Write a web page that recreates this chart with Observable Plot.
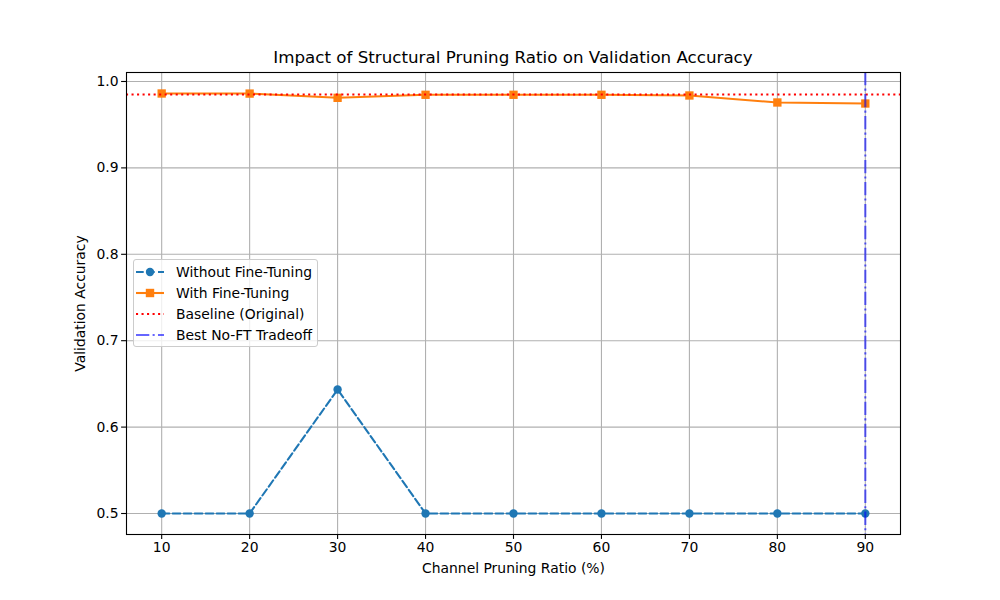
<!DOCTYPE html>
<html>
<head>
<meta charset="utf-8">
<script src="https://cdn.jsdelivr.net/npm/d3@7"></script>
<script src="https://cdn.jsdelivr.net/npm/@observablehq/plot@0.6"></script>
<style>
  html, body { margin: 0; padding: 0; background: #fff; }
  #wrap { position: relative; width: 1000px; height: 600px; font-family: "DejaVu Sans", sans-serif; }
  #title { position: absolute; left: 126px; width: 774px; top: 47px; text-align: center; font-size: 16.7px; color: #000; }
  #legend { position: absolute; left: 133px; top: 259px; width: 183px; height: 86px; border: 1px solid #cccccc; border-radius: 3px; background: rgba(255,255,255,0.8); }
  .li { position: absolute; left: 0; height: 20px; display: flex; align-items: center; font-size: 13.9px; color: #000; }
  .li svg { margin-left: 2px; margin-right: 12px; }
</style>
</head>
<body>
<div id="wrap">
  <div id="chart"></div>
  <div id="title">Impact of Structural Pruning Ratio on Validation Accuracy</div>
  <div id="legend"></div>
</div>
<script>
const ratios = [10, 20, 30, 40, 50, 60, 70, 80, 90];
const withoutFT = [0.5, 0.5, 0.6435, 0.5, 0.5, 0.5, 0.5, 0.5, 0.5];
const withFT = [0.9861, 0.9860, 0.9811, 0.9846, 0.9846, 0.9846, 0.9838, 0.9757, 0.9745];
const baseline = 0.985;
const bestRatio = 90;
const yTicks = [0.5, 0.6, 0.7, 0.8, 0.9, 1.0];
const seriesNames = ["Without Fine-Tuning", "With Fine-Tuning", "Baseline (Original)", "Best No-FT Tradeoff"];

const dataNo = ratios.map((r, i) => ({ r, v: withoutFT[i] }));
const dataFT = ratios.map((r, i) => ({ r, v: withFT[i] }));

const LW = 2.08;
const DASH = "7.7,3.3";
const DOT = "2.08,3.44";
const DASHDOT = "13.3,3.3,2.08,3.3";

const chart = Plot.plot({
  width: 1000,
  height: 600,
  marginLeft: 126,
  marginRight: 100,
  marginTop: 72,
  marginBottom: 66,
  style: { fontFamily: "DejaVu Sans, sans-serif", fontSize: "13.9px", background: "white", color: "black" },
  x: { domain: [6, 94] },
  y: { domain: [0.4757, 1.0104] },
  marks: [
    Plot.gridX(ratios, { stroke: "#b0b0b0", strokeOpacity: 1, strokeWidth: 1.1 }),
    Plot.gridY(yTicks, { stroke: "#b0b0b0", strokeOpacity: 1, strokeWidth: 1.1 }),
    Plot.line(dataNo, { x: "r", y: "v", stroke: "#1f77b4", strokeWidth: LW, strokeDasharray: DASH }),
    Plot.dot(dataNo, { x: "r", y: "v", fill: "#1f77b4", r: 4.2, symbol: "circle" }),
    Plot.line(dataFT, { x: "r", y: "v", stroke: "#ff7f0e", strokeWidth: LW }),
    Plot.dot(dataFT, { x: "r", y: "v", fill: "#ff7f0e", r: 4.7, symbol: "square" }),
    Plot.ruleY([baseline], { stroke: "red", strokeWidth: LW, strokeDasharray: DOT }),
    Plot.ruleX([bestRatio], { stroke: "blue", strokeOpacity: 0.6, strokeWidth: LW, strokeDasharray: DASHDOT }),
    Plot.frame({ stroke: "black", strokeWidth: 1.1 }),
    Plot.axisX(ratios, { tickSize: 4.9, tickPadding: 3, strokeWidth: 1.1, fontSize: 13.9, label: "Channel Pruning Ratio (%)", labelAnchor: "center", labelArrow: "none", labelOffset: 38 }),
    Plot.axisY(yTicks, { tickSize: 4.9, tickPadding: 3, strokeWidth: 1.1, fontSize: 13.9, tickFormat: d3.format(".1f"), label: "Validation Accuracy", labelAnchor: "center", labelArrow: "none", labelOffset: 51 })
  ]
});
document.getElementById("chart").appendChild(chart);

// Legend
const legend = document.getElementById("legend");
const samples = [
  `<line x1="0" y1="6" x2="28" y2="6" stroke="#1f77b4" stroke-width="${LW}" stroke-dasharray="${DASH}"/><circle cx="14" cy="6" r="4.2" fill="#1f77b4"/>`,
  `<line x1="0" y1="6" x2="28" y2="6" stroke="#ff7f0e" stroke-width="${LW}"/><rect x="9.8" y="1.8" width="8.4" height="8.4" fill="#ff7f0e"/>`,
  `<line x1="0" y1="6" x2="28" y2="6" stroke="red" stroke-width="${LW}" stroke-dasharray="${DOT}"/>`,
  `<line x1="0" y1="6" x2="28" y2="6" stroke="blue" stroke-opacity="0.6" stroke-width="${LW}" stroke-dasharray="${DASHDOT}"/>`
];
seriesNames.forEach((name, i) => {
  const div = document.createElement("div");
  div.className = "li";
  div.style.top = (2 + i * 21) + "px";
  div.innerHTML = `<svg width="28" height="12">${samples[i]}</svg><span>${name}</span>`;
  legend.appendChild(div);
});
</script>
</body>
</html>
